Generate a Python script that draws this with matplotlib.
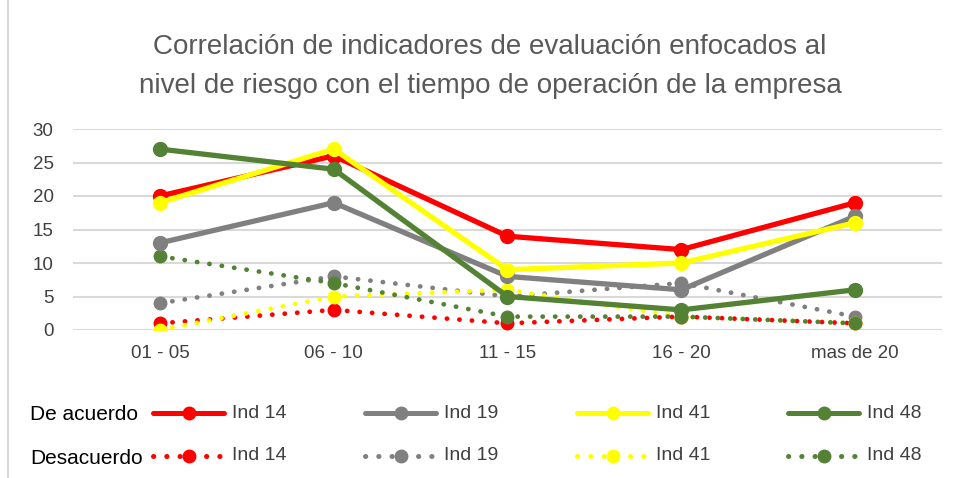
import matplotlib.pyplot as plt
from matplotlib.lines import Line2D

plt.rcParams['font.family'] = ['Liberation Sans', 'DejaVu Sans']

categorias = ['01 - 05', '06 - 10', '11 - 15', '16 - 20', 'mas de 20']
nombres = ['Ind 14', 'Ind 19', 'Ind 41', 'Ind 48']
colores = ['#FF0000', '#808080', '#FFFF00', '#548235']

# De acuerdo (linea continua)
acuerdo_14 = [20, 26, 14, 12, 19]
acuerdo_19 = [13, 19, 8, 6, 17]
acuerdo_41 = [19, 27, 9, 10, 16]
acuerdo_48 = [27, 24, 5, 3, 6]

# Desacuerdo (linea punteada)
desacuerdo_14 = [1, 3, 1, 2, 1]
desacuerdo_19 = [4, 8, 5, 7, 2]
desacuerdo_41 = [0, 5, 6, 2, 1]
desacuerdo_48 = [11, 7, 2, 2, 1]

acuerdo = [acuerdo_14, acuerdo_19, acuerdo_41, acuerdo_48]
desacuerdo = [desacuerdo_14, desacuerdo_19, desacuerdo_41, desacuerdo_48]

W, H = 956, 478
fig = plt.figure(figsize=(W/100, H/100), dpi=100)
ax = fig.add_axes([73/W, 1-330/H, (942-73)/W, (330-129)/H])

x = range(len(categorias))
punteado = (0, (0.05, 2.6))

# primero las punteadas, luego las continuas encima
for serie, c in zip(desacuerdo, colores):
    ax.plot(x, serie, color=c, lw=3.4, linestyle=punteado, dash_capstyle='round',
            marker='o', markersize=9, zorder=2)
for serie, c in zip(acuerdo, colores):
    ax.plot(x, serie, color=c, lw=3.8, solid_capstyle='round',
            marker='o', markersize=10, zorder=3)

ax.set_xlim(-0.5, len(categorias)-0.5)
ax.set_ylim(0, 30)
ax.set_yticks(range(0, 31, 5))
ax.set_xticks(list(x))
ax.set_xticklabels(categorias)
ax.grid(axis='y', color='#D9D9D9', lw=1.5)
ax.set_axisbelow(True)
for s in ax.spines.values():
    s.set_visible(False)
ax.tick_params(length=0, labelsize=13.5, labelcolor='#404040')
ax.tick_params(axis='y', pad=14)
ax.tick_params(axis='x', pad=11)

# titulo
fig.text(490/W, 1-47/H, 'Correlación de indicadores de evaluación enfocados al',
         ha='center', va='center', fontsize=20, color='#595959')
fig.text(490/W, 1-86/H, 'nivel de riesgo con el tiempo de operación de la empresa',
         ha='center', va='center', fontsize=20, color='#595959')

# leyenda manual
inicio = [153, 365, 577, 788]
filas = [(413, '-', 'De acuerdo'), (456, punteado, 'Desacuerdo')]
for yy, estilo, rotulo in filas:
    fig.text(30/W, 1-(yy+2)/H, rotulo, ha='left', va='center', fontsize=15, color='black')
    for x0, c, n in zip(inicio, colores, nombres):
        fig.add_artist(Line2D([x0/W, (x0+71)/W], [1-yy/H, 1-yy/H], color=c, lw=3.6,
                              linestyle=estilo, dash_capstyle='round', solid_capstyle='round',
                              transform=fig.transFigure))
        fig.add_artist(Line2D([(x0+36)/W], [1-yy/H], color=c, marker='o', markersize=9,
                              transform=fig.transFigure))
        fig.text((x0+79)/W, 1-yy/H, n, ha='left', va='center', fontsize=14, color='#404040')

# borde izquierdo del area del grafico
fig.add_artist(Line2D([8/W, 8/W], [0, 1], color='#D9D9D9', lw=1.5, transform=fig.transFigure))

fig.savefig('out.png', dpi=100)
